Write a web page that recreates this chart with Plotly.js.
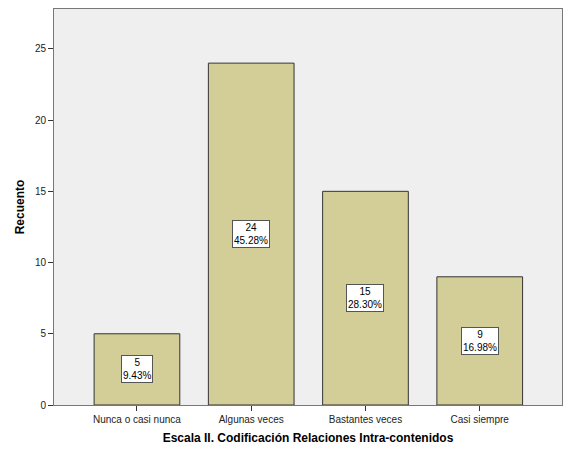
<!DOCTYPE html>
<html><head><meta charset="utf-8">
<script src="https://cdn.plot.ly/plotly-3.0.1.min.js"></script>
<style>body{margin:0;background:#fff}</style>
</head><body>
<div id="chart" style="width:566px;height:450px"></div>
<script>
const categories = ["Nunca o casi nunca", "Algunas veces", "Bastantes veces", "Casi siempre"];
const counts = [5, 24, 15, 9];
const percents = ["9.43%", "45.28%", "28.30%", "16.98%"];

const annotations = categories.map((c, i) => ({
  x: c, y: counts[i] / 2, xref: 'x', yref: 'y',
  text: counts[i] + '<br>' + percents[i],
  showarrow: false, bgcolor: '#ffffff', bordercolor: '#555555', borderwidth: 1,
  borderpad: 1, font: {family: 'Arial, Liberation Sans', size: 10, color: '#000'}
}));

Plotly.newPlot('chart', [{
  type: 'bar', x: categories, y: counts, width: 0.75,
  marker: {color: '#D3CE98', line: {color: '#333333', width: 1}},
  hoverinfo: 'none'
}], {
  width: 566, height: 450,
  margin: {l: 54, r: 4, t: 9, b: 45},
  paper_bgcolor: '#ffffff', plot_bgcolor: '#EFEFEF',
  showlegend: false, bargap: 0.25,
  font: {family: 'Arial, Liberation Sans', size: 10, color: '#333'},
  xaxis: {
    range: [-0.726, 3.72], showgrid: false, zeroline: false,
    showline: true, linecolor: '#777', linewidth: 1, mirror: true,
    ticks: 'outside', ticklen: 5, tickcolor: '#333',
    tickfont: {family: 'Arial, Liberation Sans', size: 10, color: '#222'},
    title: {text: '<b>Escala II. Codificación Relaciones Intra-contenidos</b>', standoff: 9,
      font: {family: 'Arial, Liberation Sans', size: 12, color: '#000'}}
  },
  yaxis: {
    range: [0, 27.8], dtick: 5, showgrid: false, zeroline: false,
    showline: true, linecolor: '#777', linewidth: 1, mirror: true,
    ticks: 'outside', ticklen: 5, tickcolor: '#333',
    tickfont: {family: 'Arial, Liberation Sans', size: 10, color: '#222'},
    title: {text: '<b>Recuento</b>', standoff: 7,
      font: {family: 'Arial, Liberation Sans', size: 12, color: '#000'}}
  },
  annotations: annotations
}, {displayModeBar: false, staticPlot: true});
</script>
</body></html>
